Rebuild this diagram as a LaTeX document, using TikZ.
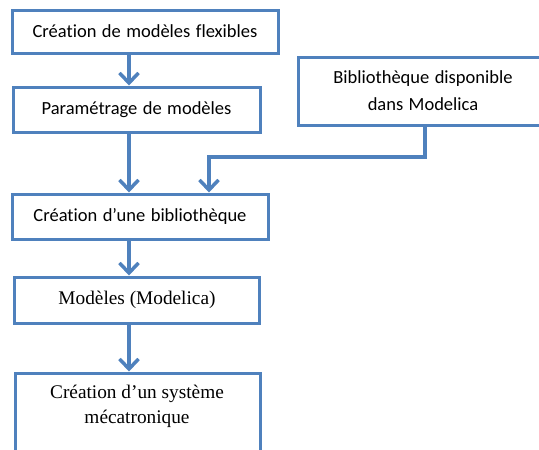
\documentclass[tikz,border=0pt]{standalone}
\usepackage{fontspec}
\setmainfont{Carlito}[Ligatures={NoCommon}, WordSpace=1.3]
\newfontfamily\serifface{Liberation Serif}
\usetikzlibrary{arrows.meta}
\definecolor{officeblue}{RGB}{79,129,189}
\tikzset{
  box/.style={draw=officeblue, line width=3pt, rectangle, inner sep=0pt, align=center, font=\fontsize{18.5}{27}\selectfont},
  serifbox/.style={box, font=\serifface\fontsize{19.3}{25}\selectfont},
  arr/.style={draw=officeblue, line width=3.5pt, -{Straight Barb[length=10pt,width=19pt,line width=3.5pt]}}
}
\begin{document}
\begin{tikzpicture}[x=1pt,y=-1pt]
\clip (0,0) rectangle (539,450);
\useasboundingbox (0,0) rectangle (539,450);
\node[box, minimum width=266pt, minimum height=43pt] (b1) at (145,31.5) {Création de modèles flexibles};
\node[box, minimum width=247pt, minimum height=45pt] (b2) at (136.5,109.5) {Paramétrage de modèles};
\node[box, minimum width=250pt, minimum height=68pt] (b3) at (423,91) {Bibliothèque disponible\\dans Modelica};
\node[box, minimum width=256pt, minimum height=45pt] (b4) at (140,216.5) {Création d’une bibliothèque};
\node[serifbox, minimum width=245pt, minimum height=46pt] (b5) at (137,300) {Modèles (Modelica)};
\node[serifbox, minimum width=245pt, minimum height=100pt] (b6) at (137.5,423) {};
\node[font=\serifface\fontsize{19.3}{25}\selectfont, align=center, anchor=north, inner sep=0pt] (t6) at (137,385) {Création d’un système\\mécatronique};
\coordinate (ax) at (129,0);
\coordinate (cx) at (209,0);
\coordinate (j) at (425,157);
\draw[arr] (b1.south -| ax) -- (b2.north -| ax);
\draw[arr] (b2.south -| ax) -- (b4.north -| ax);
\draw[arr] (b3.south -| j) -- (j) -- (j -| cx) -- (b4.north -| cx);
\draw[arr] (b4.south -| ax) -- (b5.north -| ax);
\draw[arr] (b5.south -| ax) -- (b6.north -| ax);
\end{tikzpicture}
\end{document}
